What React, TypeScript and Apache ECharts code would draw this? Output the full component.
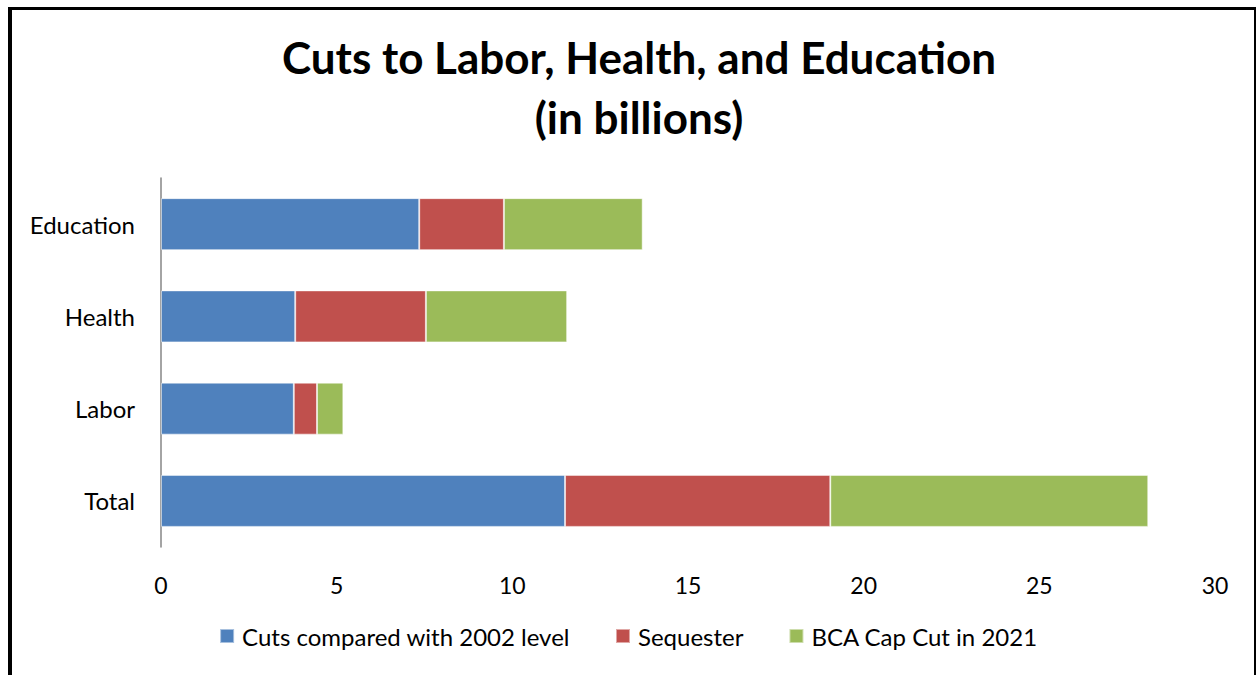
import React, { useEffect, useRef } from "react";
import * as echarts from "echarts";

const categories = ["Total", "Labor", "Health", "Education"];
const cutsVs2002 = [11.5, 3.78, 3.82, 7.35];
const sequester = [7.55, 0.66, 3.72, 2.41];
const bcaCapCut = [9.05, 0.75, 4.02, 3.95];
const seriesNames = ["Cuts compared with 2002 level", "Sequester", "BCA Cap Cut in 2021"];
const colors = ["#4F81BD", "#C0504D", "#9BBB59"];
const FONT = "Lato";

export default function App() {
  const ref = useRef<HTMLDivElement>(null);
  useEffect(() => {
    document.body.style.margin = "0";
    const chart = echarts.init(ref.current!, null, { renderer: "svg" });
    const values = [cutsVs2002, sequester, bcaCapCut];
    chart.setOption({
      animation: false,
      backgroundColor: "#ffffff",
      title: {
        text: "Cuts to Labor, Health, and Education\n(in billions)",
        left: 634,
        textAlign: "center",
        top: 22,
        textStyle: {
          fontFamily: FONT,
          fontWeight: "bold",
          fontSize: 44,
          lineHeight: 60,
          color: "#000",
        },
      },
      graphic: [
        { type: "line", shape: { x1: 10, y1: 8.5, x2: 1256, y2: 8.5 }, style: { stroke: "#000", lineWidth: 3 } },
        { type: "line", shape: { x1: 10, y1: 7, x2: 10, y2: 675 }, style: { stroke: "#000", lineWidth: 4 } },
        { type: "line", shape: { x1: 1255, y1: 7, x2: 1255, y2: 675 }, style: { stroke: "#000", lineWidth: 2 } },
      ],
      legend: {
        bottom: 22,
        left: "center",
        itemWidth: 14,
        itemHeight: 14,
        itemGap: 45,
        icon: "rect",
        textStyle: { fontFamily: FONT, fontSize: 24, color: "#000", padding: [0, 0, 0, 3] },
        data: seriesNames,
      },
      grid: { left: 161, right: 42, top: 178, bottom: 128, containLabel: false },
      xAxis: {
        type: "value",
        min: 0,
        max: 30,
        interval: 5,
        axisLine: { show: false },
        axisTick: { show: false },
        splitLine: { show: false },
        axisLabel: { fontFamily: FONT, fontSize: 23, color: "#000", margin: 26 },
      },
      yAxis: {
        type: "category",
        data: categories,
        axisLine: { show: true, lineStyle: { color: "#868686", width: 1.5 } },
        axisTick: { show: false },
        axisLabel: { fontFamily: FONT, fontSize: 24, color: "#000", margin: 26 },
      },
      series: seriesNames.map((name, i) => ({
        name,
        type: "bar",
        stack: "total",
        barWidth: 52,
        data: values[i],
        itemStyle: { color: colors[i], borderColor: "rgba(255,255,255,0.5)", borderWidth: 1 },
      })),
    });
    return () => chart.dispose();
  }, []);
  return <div ref={ref} style={{ width: 1257, height: 675 }} />;
}
